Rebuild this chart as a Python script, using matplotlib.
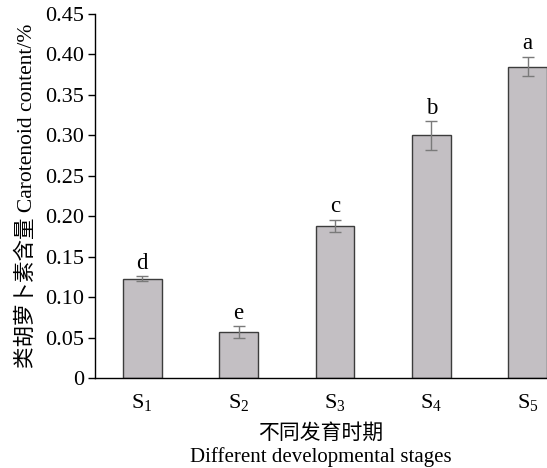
import matplotlib.pyplot as plt

# carotenoid content at each developmental stage (mean, error)
stages = ["S$_1$", "S$_2$", "S$_3$", "S$_4$", "S$_5$"]
content = [0.123, 0.057, 0.188, 0.300, 0.385]
errors = [0.003, 0.007, 0.0075, 0.0175, 0.012]
letters = ["d", "e", "c", "b", "a"]
ytick_values = [0, 0.05, 0.10, 0.15, 0.20, 0.25, 0.30, 0.35, 0.40, 0.45]
ytick_labels = ["0", "0.05", "0.10", "0.15", "0.20", "0.25", "0.30", "0.35", "0.40", "0.45"]

plt.rcParams['font.family'] = ['Liberation Serif', 'Noto Sans CJK SC']
plt.rcParams['mathtext.default'] = 'regular'

fig = plt.figure(figsize=(5.47, 4.68), dpi=100)
ax = fig.add_axes([0.1737, 0.1923, 0.8263, 0.7777])

x = list(range(len(stages)))
ax.bar(x, content, width=0.4, color="#c3bfc3", edgecolor="#3c3c3c", linewidth=1.0)
ax.errorbar(x, content, yerr=errors, fmt="none", ecolor="#7a7a7a",
            elinewidth=1.0, capsize=4, capthick=1.0)

for xi, v, e, t in zip(x, content, errors, letters):
    ax.text(xi, v + e + 0.003, t, ha="center", va="bottom", fontsize=16.5)

ax.set_xlim(-0.49, 4.2)
ax.set_ylim(0, 0.45)
ax.set_xticks(x)
ax.set_xticklabels(stages, fontsize=16)
ax.set_yticks(ytick_values)
ax.set_yticklabels(ytick_labels, fontsize=16)
ax.tick_params(axis="x", length=0, pad=10)
ax.tick_params(axis="y", direction="out", length=5, width=1.0, pad=3)

ax.spines["top"].set_visible(False)
ax.spines["right"].set_visible(False)
ax.spines["left"].set_linewidth(1.0)
ax.spines["bottom"].set_linewidth(1.0)

ax.set_xlabel("不同发育时期\nDifferent developmental stages", fontsize=15,
              labelpad=8, linespacing=1.25)
ax.set_ylabel("类胡萝卜素含量 Carotenoid content/%", fontsize=15.5, labelpad=6)

fig.savefig("out.png", dpi=100)
